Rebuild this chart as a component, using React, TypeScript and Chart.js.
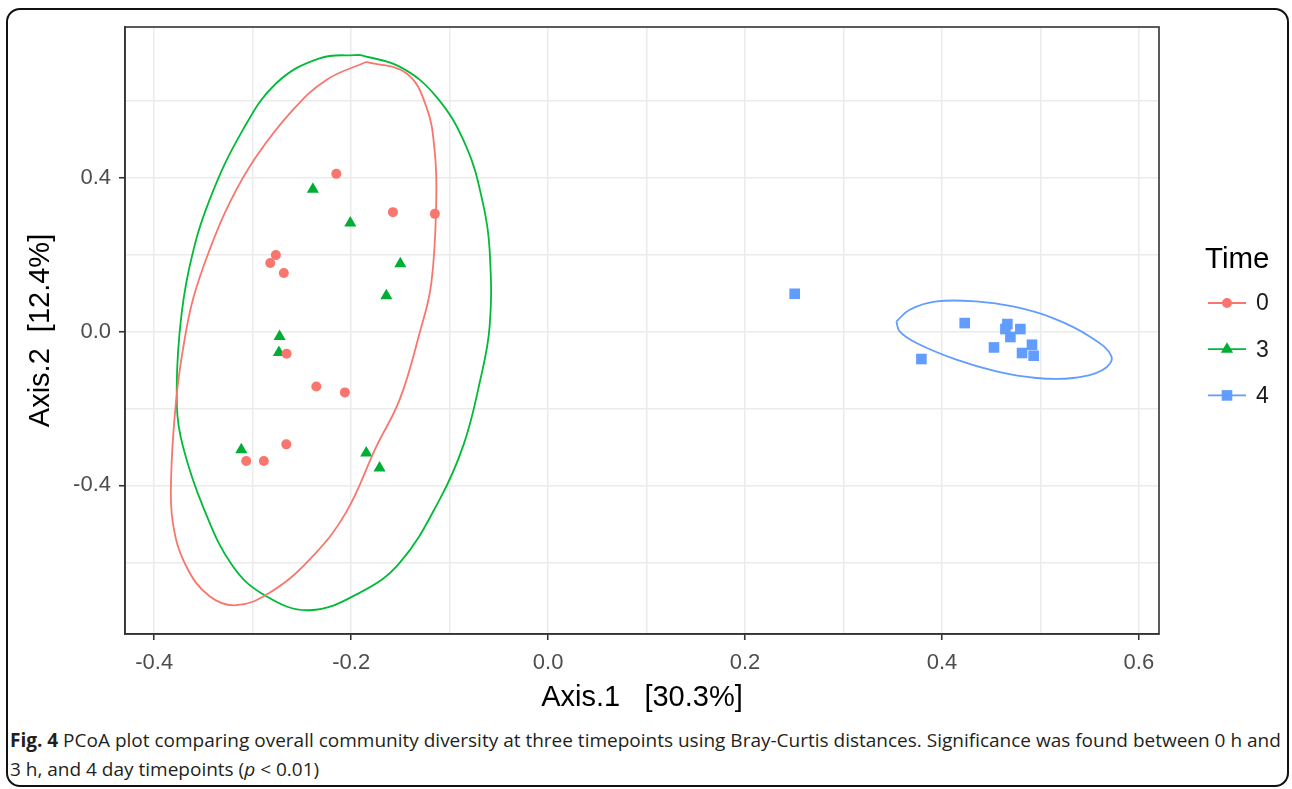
import React, { useEffect, useRef } from 'react';
import { Chart, registerables } from 'chart.js';

Chart.register(...registerables);

// ---- Data ----
const legendTitle = 'Time';
const groupLabels = ['0', '3', '4'];
const pointColors = ['#F8766D', '#00AE34', '#619CFF'];
const lineColors = ['#F8766D', '#00BA38', '#619CFF'];
const pointStyles = ['circle', 'triangle', 'rect'];

const time0X = [-0.2151, -0.1576, -0.115, -0.2765, -0.2822, -0.2684, -0.2656, -0.2354, -0.2064, -0.2659, -0.3066, -0.2887];
const time0Y = [0.4096, 0.3101, 0.3057, 0.1984, 0.1777, 0.1517, -0.0579, -0.1429, -0.1584, -0.2935, -0.3366, -0.3366];

const time3X = [-0.2389, -0.2009, -0.1501, -0.1643, -0.2727, -0.2734, -0.3116, -0.1847, -0.1712];
const time3Y = [0.3699, 0.2816, 0.1758, 0.0927, -0.013, -0.0545, -0.3073, -0.3158, -0.3548];

const time4X = [0.2504, 0.4231, 0.4664, 0.4796, 0.4644, 0.4695, 0.4528, 0.3791, 0.4813, 0.4914, 0.4931];
const time4Y = [0.0979, 0.0218, 0.0192, 0.0062, 0.0062, -0.0145, -0.0416, -0.0717, -0.0561, -0.0345, -0.0631];

// Confidence ellipse outlines
const ellipse0X = [-0.1847, -0.144, -0.1237, -0.1153, -0.1136, -0.1186, -0.1305, -0.1508, -0.1745, -0.2055, -0.2423, -0.2829, -0.3167, -0.3438, -0.3675, -0.3811, -0.3827, -0.3777, -0.3709, -0.3608, -0.3438, -0.3235, -0.2964, -0.2592, -0.2253, -0.1847];
const ellipse0Y = [0.7005, 0.6712, 0.5844, 0.4719, 0.3421, 0.1257, -0.0042, -0.1774, -0.2995, -0.4717, -0.593, -0.6795, -0.7117, -0.6883, -0.6104, -0.4977, -0.3678, -0.1774, -0.0475, 0.0823, 0.2122, 0.3343, 0.4545, 0.5758, 0.6538, 0.7005];

const ellipse3X = [-0.1915, -0.1508, -0.1136, -0.0831, -0.0662, -0.0594, -0.0594, -0.0696, -0.0858, -0.1102, -0.1508, -0.1915, -0.2423, -0.2862, -0.3202, -0.3506, -0.3709, -0.377, -0.3743, -0.3641, -0.3438, -0.31, -0.2761, -0.2321, -0.1915];
const ellipse3Y = [0.7187, 0.6883, 0.6104, 0.4805, 0.3335, 0.2122, 0.013, -0.134, -0.2943, -0.4371, -0.6016, -0.6795, -0.7247, -0.6883, -0.6104, -0.4545, -0.2987, -0.1948, -0.0042, 0.1688, 0.3421, 0.5239, 0.6452, 0.7101, 0.7187];

const ellipse4X = [0.3537, 0.3672, 0.3943, 0.4349, 0.4721, 0.5127, 0.55, 0.5721, 0.5635, 0.5331, 0.4959, 0.4553, 0.4146, 0.374, 0.357, 0.3537];
const ellipse4Y = [0.026, 0.0564, 0.0779, 0.0779, 0.0649, 0.0348, -0.013, -0.0649, -0.0995, -0.121, -0.121, -0.1039, -0.0735, -0.0301, 0.0, 0.026];

const xTitle = 'Axis.1   [30.3%]';
const yTitle = 'Axis.2  [12.4%]';
const xMin = -0.4297;
const xMax = 0.6204;
const yMin = -0.7865;
const yMax = 0.7914;

const zip = (xs: number[], ys: number[]) => xs.map((x, i) => ({ x, y: ys[i] }));

const legendPlugin = {
  id: 'ggLegend',
  afterDraw(chart: any) {
    const ctx = chart.ctx;
    ctx.save();
    ctx.textBaseline = 'middle';
    ctx.textAlign = 'left';
    ctx.fillStyle = '#000';
    ctx.font = '29.5px "Liberation Sans", Arial, sans-serif';
    ctx.fillText(legendTitle, 1205, 260);
    groupLabels.forEach((lab, i) => {
      const y = 303 + i * 46.2;
      const cx = 1227;
      ctx.strokeStyle = lineColors[i];
      ctx.lineWidth = 1.8;
      ctx.beginPath();
      ctx.moveTo(1208, y);
      ctx.lineTo(1246, y);
      ctx.stroke();
      ctx.fillStyle = pointColors[i];
      ctx.beginPath();
      if (pointStyles[i] === 'circle') {
        ctx.arc(cx, y, 5, 0, Math.PI * 2);
      } else if (pointStyles[i] === 'triangle') {
        ctx.moveTo(cx, y - 7);
        ctx.lineTo(cx + 6.1, y + 3.5);
        ctx.lineTo(cx - 6.1, y + 3.5);
        ctx.closePath();
      } else {
        ctx.rect(cx - 5.3, y - 5.3, 10.6, 10.6);
      }
      ctx.fill();
      ctx.fillStyle = '#1a1a1a';
      ctx.font = '23px "Liberation Sans", Arial, sans-serif';
      ctx.fillText(lab, 1256, y + 1);
    });
    // panel border
    const a = chart.chartArea;
    ctx.strokeStyle = '#333333';
    ctx.lineWidth = 1.6;
    ctx.strokeRect(a.left, a.top, a.right - a.left, a.bottom - a.top);
    ctx.restore();
  },
};

export default function App() {
  const ref = useRef<HTMLCanvasElement | null>(null);

  useEffect(() => {
    if (!ref.current) return;
    const pointDs = (i: number, data: any[]) => ({
      type: 'scatter' as const,
      label: groupLabels[i],
      data,
      pointStyle: pointStyles[i],
      pointRadius: i === 0 ? 5 : i === 1 ? 7 : 7.5,
      pointBackgroundColor: pointColors[i],
      pointBorderWidth: 0,
      showLine: false,
    });
    const ellDs = (i: number, data: any[]) => ({
      type: 'line' as const,
      label: 'ellipse ' + groupLabels[i],
      data,
      borderColor: lineColors[i],
      borderWidth: 1.8,
      pointRadius: 0,
      tension: 0.4,
      fill: false,
    });
    const chart = new Chart(ref.current, {
      type: 'scatter',
      data: {
        datasets: [
          ellDs(0, zip(ellipse0X, ellipse0Y)),
          ellDs(1, zip(ellipse3X, ellipse3Y)),
          ellDs(2, zip(ellipse4X, ellipse4Y)),
          pointDs(0, zip(time0X, time0Y)),
          pointDs(1, zip(time3X, time3Y)),
          pointDs(2, zip(time4X, time4Y)),
        ] as any,
      },
      options: {
        animation: false,
        responsive: false,
        devicePixelRatio: 1,
        layout: { padding: { left: 0, top: 27, right: 133, bottom: 0 } },
        plugins: { legend: { display: false }, tooltip: { enabled: false } },
        scales: {
          x: {
            type: 'linear',
            min: xMin,
            max: xMax,
            afterFit: (s: any) => { s.height = 86; },
            ticks: {
              stepSize: 0.1,
              includeBounds: false,
              autoSkip: false,
              maxRotation: 0,
              padding: 10,
              color: '#4D4D4D',
              font: { family: '"Liberation Sans", Arial, sans-serif', size: 22 },
              callback: (v: any) => {
                const k = Math.round(Number(v) * 10);
                return k % 2 === 0 ? (k / 10).toFixed(1) : '';
              },
            },
            grid: {
              color: '#EBEBEB',
              lineWidth: 1.5,
              tickLength: 6,
              tickColor: (c: any) => {
                const k = Math.round(c.tick.value * 10);
                return k % 2 === 0 ? '#333333' : 'rgba(0,0,0,0)';
              },
              tickWidth: 1.6,
            },
            border: { display: true, color: '#333333', width: 1.6 },
            title: {
              display: true,
              text: xTitle,
              color: '#000',
              font: { family: '"Liberation Sans", Arial, sans-serif', size: 29 },
              padding: { top: 0, bottom: 5 },
            },
          },
          y: {
            type: 'linear',
            min: yMin,
            max: yMax,
            afterFit: (s: any) => { s.width = 125; },
            ticks: {
              stepSize: 0.2,
              includeBounds: false,
              autoSkip: false,
              padding: 8,
              color: '#4D4D4D',
              font: { family: '"Liberation Sans", Arial, sans-serif', size: 22 },
              callback: (v: any) => {
                const k = Math.round(Number(v) * 10);
                return k % 4 === 0 ? (k / 10).toFixed(1) : '';
              },
            },
            grid: {
              color: '#EBEBEB',
              lineWidth: 1.5,
              tickLength: 6,
              tickColor: (c: any) => {
                const k = Math.round(c.tick.value * 10);
                return k % 4 === 0 ? '#333333' : 'rgba(0,0,0,0)';
              },
              tickWidth: 1.6,
            },
            border: { display: true, color: '#333333', width: 1.6 },
            title: {
              display: true,
              text: yTitle,
              color: '#000',
              font: { family: '"Liberation Sans", Arial, sans-serif', size: 29 },
              padding: { top: 24, bottom: 0 },
            },
          },
        },
      },
      plugins: [legendPlugin],
    });
    return () => chart.destroy();
  }, []);

  return (
    <div style={{ position: 'absolute', left: 0, top: 0, width: 1292, height: 789, background: '#fff', overflow: 'hidden' }}>
      <div
        style={{
          position: 'absolute',
          left: 6,
          top: 8,
          width: 1283,
          height: 779,
          boxSizing: 'border-box',
          border: '2px solid #111',
          borderRadius: 14,
        }}
      />
      <canvas ref={ref} width={1292} height={720} style={{ position: 'absolute', left: 0, top: 0, display: 'block' }} />
      <div
        style={{
          position: 'absolute',
          left: 10,
          top: 726,
          fontFamily: '"Open Sans", sans-serif',
          fontSize: 19,
          lineHeight: '29px',
          color: '#231F20',
          whiteSpace: 'nowrap',
          letterSpacing: '0px',
        }}
      >
        <b>Fig. 4</b> PCoA plot comparing overall community diversity at three timepoints using Bray-Curtis distances. Significance was found between 0 h and
        <br />
        3 h, and 4 day timepoints (<i>p</i> &lt; 0.01)
      </div>
    </div>
  );
}
